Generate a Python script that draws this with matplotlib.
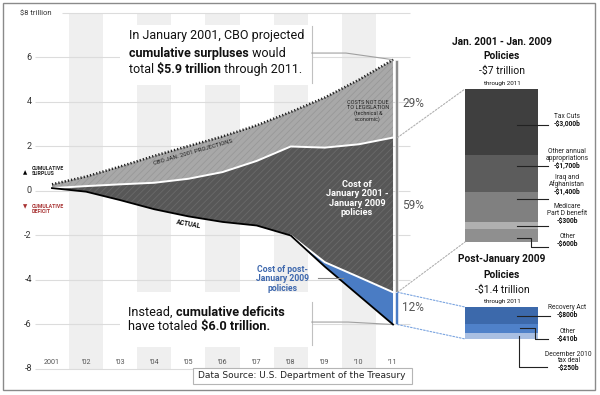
import matplotlib
matplotlib.use("Agg")
import matplotlib.pyplot as plt
from matplotlib.patches import Rectangle, ConnectionPatch
import numpy as np

plt.rcParams['font.family'] = ['Roboto', 'DejaVu Sans']
plt.rcParams['hatch.linewidth'] = 0.6

# cumulative surplus (+) / deficit (-), $ trillion
years = np.arange(2001, 2012)
cbo_projection = [0.3, 0.65, 1.1, 1.58, 2.02, 2.45, 2.95, 3.55, 4.2, 5.0, 5.9]
no_legislation = [0.13, 0.22, 0.3, 0.37, 0.55, 0.85, 1.35, 2.0, 1.95, 2.1, 2.4]
pre2009_policy = [0.13, -0.03, -0.41, -0.82, -1.14, -1.39, -1.55, -2.0, -3.2, -3.87, -4.55]
actual = [0.13, -0.03, -0.41, -0.82, -1.14, -1.39, -1.55, -2.0, -3.4, -4.7, -6.0]
year_labels = ["2001", "’02", "’03", "’04", "’05", "’06", "’07", "’08", "’09", "’10", "’11"]
y_ticks = [-8, -6, -4, -2, 0, 2, 4, 6]
shares = ["29%", "59%", "12%"]

# policy breakdown, $ billion
pre_names = ["Tax Cuts", "Other annual\nappropriations", "Iraq and\nAfghanistan",
             "Medicare\nPart D benefit", "Other"]
pre_values = [3000, 1700, 1400, 300, 600]
pre_colors = ['#3f3f3f', '#5c5c5c', '#808080', '#b0b0b0', '#8f8f8f']
post_names = ["Recovery Act", "Other", "December 2010\ntax deal"]
post_values = [800, 410, 250]
post_colors = ['#3c69ab', '#4f81c9', '#a9bfe2']

W, H = 600, 395
fig = plt.figure(figsize=(6, 3.95), dpi=100)

def fx(px):
    return px / W

def fy(py):
    return 1 - py / H

blue = '#4a7cc4'

# ---------------- main chart
ax = fig.add_axes([fx(17.9), fy(377.9), 402.4 / W, 373.8 / H])
ax.set_xlim(2000.0, 2011.8)
ax.set_ylim(-8.4, 8.4)
ax.axis('off')

ax.bar(years[1::2], 16, bottom=-8, width=1, color='#efefef', zorder=0)
ax.hlines(y_ticks, 2000.5, 2011.5, color='#dcdcdc', lw=0.8, zorder=1)
ax.hlines(8, 2001.3, 2011.5, color='#dcdcdc', lw=0.8, zorder=1)
for v in y_ticks:
    ax.text(2000.41, v, str(v), ha='right', va='center', fontsize=6.5, color='#333333')
ax.text(2000.06, 8, "\\$8 trillion", ha='left', va='center', fontsize=5.5, color='#333333')
for yr, lab in zip(years, year_labels):
    ax.text(yr, -7.72, lab, ha='center', va='center', fontsize=5.2, color='#555555')

# white text boxes
ax.add_patch(Rectangle((2003.0, 4.76), 5.62, 2.7, facecolor='white', edgecolor='none', zorder=2))
ax.add_patch(Rectangle((2003.0, -7.01), 5.62, 2.47, facecolor='white', edgecolor='none', zorder=2))
ax.plot([2008.62, 2008.62], [7.4, 4.85], color='#c0c0c0', lw=0.8, zorder=2)
ax.plot([2008.62, 2008.62], [-4.99, -6.92], color='#c0c0c0', lw=0.8, zorder=2)
ax.plot([2008.62, 2009.62, 2011], [6.2, 6.2, cbo_projection[-1]], color='#a0a0a0', lw=0.8, zorder=2)
ax.plot([2008.62, 2009.68, 2011], [-5.89, -5.89, actual[-1]], color='#a0a0a0', lw=0.8, zorder=2)

# areas
ax.fill_between(years, no_legislation, cbo_projection, facecolor='#a8a8a8', edgecolor='#989898',
                hatch='/////', lw=0, zorder=3)
ax.fill_between(years, pre2009_policy, no_legislation, facecolor='#575757', edgecolor='#6a6a6a',
                hatch='/////', lw=0, zorder=3)
ax.fill_between(years, actual, pre2009_policy, facecolor=blue, lw=0, zorder=3)
ax.plot(years, no_legislation, color='white', lw=1.4, zorder=4)
ax.plot(years[7:], pre2009_policy[7:], color='white', lw=1.4, zorder=4)
ax.plot(years, actual, color='black', lw=1.3, zorder=5)
ax.plot(years, cbo_projection, color='#222222', lw=1.8, ls=(0, (0.5, 0.8)), zorder=5)

# 2011 total bar
ax.bar(2011.1, cbo_projection[-1] - pre2009_policy[-1], bottom=pre2009_policy[-1], width=0.09,
       color='#8c8c8c', edgecolor='white', lw=0.4, zorder=4)
ax.bar(2011.1, pre2009_policy[-1] - actual[-1], bottom=actual[-1], width=0.09,
       color=blue, edgecolor='white', lw=0.4, zorder=4)
for s, yy in zip(shares, [3.95, -0.65, -5.25]):
    ax.text(2011.27, yy, s, ha='left', va='center', fontsize=8.5, color='#555555', zorder=6)

# annotations in chart
ax.text(2005.15, 1.72, "CBO JAN. 2001 PROJECTIONS", rotation=16, ha='center', va='center',
        fontsize=4.3, color='#222222', zorder=6)
ax.text(2005.0, -1.5, "ACTUAL", rotation=-10, ha='center', va='center', fontsize=4.8,
        weight='bold', color='#111111', zorder=6)
ax.text(2010.27, 3.6, "COSTS NOT DUE\nTO LEGISLATION\n(technical &\neconomic)", ha='center',
        va='center', fontsize=4, color='#222222', linespacing=1.0, zorder=6)
ax.text(2009.94, -0.33, "Cost of\nJanuary 2001 -\nJanuary 2009\npolicies", ha='center', va='center',
        fontsize=6.7, weight='bold', color='white', linespacing=1.05, zorder=6)
ax.text(2007.75, -3.95, "Cost of post-\nJanuary 2009\npolicies", ha='center', va='center',
        fontsize=6.2, weight='bold', color='#3d67ad', linespacing=1.05, zorder=6)
ax.plot([2008.8, 2009.53], [-3.91, -3.91], color='#888888', lw=0.8, zorder=6)

ax.text(2000.21, 0.81, "▲", ha='center', va='center', fontsize=4, color='black')
ax.text(2000.41, 0.9, "CUMULATIVE\nSURPLUS", ha='left', va='center', fontsize=3.8,
        weight='bold', color='#222222', linespacing=0.95)
ax.text(2000.21, -0.72, "▼", ha='center', va='center', fontsize=4, color='#a83232')
ax.text(2000.41, -0.81, "CUMULATIVE\nDEFICIT", ha='left', va='center', fontsize=3.8,
        weight='bold', color='#a83232', linespacing=0.95)


def rich_line(x, y, parts, size):
    t = ax.text(x, y, parts[0][0], weight=parts[0][1], fontsize=size, ha='left',
                va='center', color='#111111', zorder=6)
    for s, w in parts[1:]:
        t = ax.annotate(s, xy=(1, 0), xycoords=t, ha='left', va='bottom', weight=w,
                        fontsize=size, color='#111111', zorder=6)


rich_line(2003.26, 7.01, [("In January 2001, CBO projected", 'normal')], 9)
rich_line(2003.26, 6.2, [("cumulative surpluses", 'bold'), (" would", 'normal')], 9)
rich_line(2003.26, 5.44, [("total ", 'normal'), ("\\$5.9 trillion", 'bold'),
                          (" through 2011.", 'normal')], 9)
rich_line(2003.23, -5.44, [("Instead, ", 'normal'), ("cumulative deficits", 'bold')], 9.2)
rich_line(2003.23, -6.11, [("have totaled ", 'normal'), ("\\$6.0 trillion.", 'bold')], 9.2)

# ---------------- right panel bars
px_per_b = 153 / 7000
b_per_px = 1 / px_per_b


def stack_axes(top_px, values, colors):
    h = sum(values) * px_per_b
    a = fig.add_axes([fx(465), fy(top_px + h), 73 / W, h / H])
    bottoms = np.concatenate([[0], np.cumsum(values)[:-1]])
    a.bar(0, values, bottom=bottoms, width=1, color=colors, lw=0)
    a.set_xlim(-0.5, 0.5)
    a.set_ylim(sum(values), 0)
    a.axis('off')
    return a, bottoms + np.array(values) / 2


def seg_label(a, mid, name, value, shift=0, elbow=None, x0=0.71, x1=1.14, xt=1.4, up=0):
    tr = a.get_yaxis_transform()
    if elbow is None:
        xs, ys = [x0, x1], [mid + shift, mid + shift]
    else:
        xk, drop = elbow
        xs = [x0, xk, xk, x1]
        ys = [mid + shift, mid + shift, mid + drop, mid + drop]
    a.plot(xs, ys, transform=tr, color='#222222', lw=0.8, clip_on=False)
    yend = ys[-1] - up * b_per_px
    t = a.text(xt, yend, value, transform=tr, ha='center', va='center', fontsize=4.8,
               weight='bold', color='#111111')
    a.annotate(name, xy=(0.5, 1), xycoords=t, ha='center', va='bottom', fontsize=4.8,
               color='#222222', linespacing=0.9)


ax_pre, pre_mid = stack_axes(89, pre_values, pre_colors)
ax_post, post_mid = stack_axes(307, post_values, post_colors)

pre_shift = [150, -330, -370, 0, 100]
pre_up = [1, 0, 7, 5, 3]
for i, (nm, v) in enumerate(zip(pre_names, pre_values)):
    el = (0.9, 530) if i == len(pre_values) - 1 else None
    seg_label(ax_pre, pre_mid[i], nm, "-\\$" + format(v, ',') + "b", pre_shift[i], el,
              up=pre_up[i])

seg_label(ax_post, post_mid[0], post_names[0], "-\\$%db" % post_values[0], 30,
          x1=1.16, xt=1.4, up=1)
seg_label(ax_post, post_mid[1], post_names[1], "-\\$%db" % post_values[1], -40, (0.96, 460),
          x0=0.75, xt=1.4)
seg_label(ax_post, post_mid[2], post_names[2], "-\\$%db" % post_values[2], 0, (0.74, 1420),
          x0=0.74, x1=1.12, xt=1.42, up=-1)

for txt, yy, sz, w in [("Jan. 2001 - Jan. 2009", 42, 7.3, 'bold'), ("Policies", 56, 7.3, 'bold'),
                       ("-\\$7 trillion", 71, 7.5, 'normal'), ("through 2011", 84, 4.5, 'normal'),
                       ("Post-January 2009", 259, 7.3, 'bold'), ("Policies", 275, 7.3, 'bold'),
                       ("-\\$1.4 trillion", 290, 7.5, 'normal'), ("through 2011", 302, 4.5, 'normal')]:
    fig.text(fx(502), fy(yy), txt, ha='center', va='center', fontsize=sz, weight=w, color='#111111')

# connectors from 2011 bar to breakdown bars
links = [((2011.13, no_legislation[-1]), ax_pre, (0, 1), '#b0b0b0'),
         ((2011.13, pre2009_policy[-1]), ax_pre, (0, 0), '#b0b0b0'),
         ((2011.13, pre2009_policy[-1]), ax_post, (0, 1), '#7aa4e0'),
         ((2011.13, actual[-1]), ax_post, (0, 0), '#7aa4e0')]
for xyA, axB, xyB, c in links:
    cp = ConnectionPatch(xyA=xyA, coordsA=ax.transData, xyB=xyB, coordsB=axB.transAxes,
                         color=c, lw=0.8, ls=(0, (1.5, 1.5)))
    fig.add_artist(cp)

# frame and source
fig.add_artist(Rectangle((fx(3), fy(390)), fx(592), 387 / H, transform=fig.transFigure,
                         fill=False, edgecolor='#8a8a8a', lw=1))
fig.add_artist(Rectangle((fx(193), fy(384)), fx(219), 16 / H, transform=fig.transFigure,
                         facecolor='white', edgecolor='#b5b5b5', lw=0.8))
fig.text(fx(302), fy(376), "Data Source: U.S. Department of the Treasury", ha='center',
         va='center', fontsize=6.5, family='DejaVu Sans', color='#222222')

fig.savefig("out.png", dpi=100)
